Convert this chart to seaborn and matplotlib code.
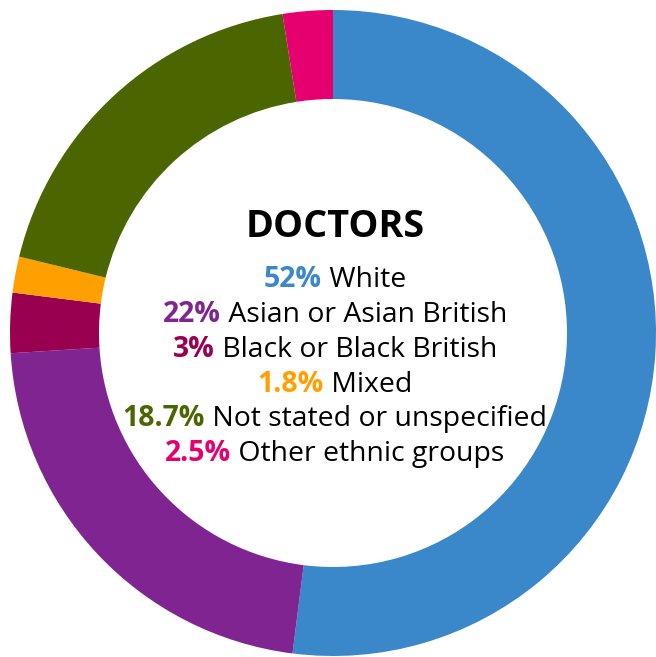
import matplotlib
matplotlib.use("Agg")
import matplotlib.pyplot as plt
import seaborn as sns

# doctors by ethnic group (%)
groups = ["White", "Asian or Asian British", "Black or Black British",
          "Mixed", "Not stated or unspecified", "Other ethnic groups"]
shares = [52, 22, 3, 1.8, 18.7, 2.5]
share_labels = ["52%", "22%", "3%", "1.8%", "18.7%", "2.5%"]
colors = ["#3a88ca", "#7f2491", "#990050", "#ffa000", "#4b6600", "#e6006f"]

sns.set_theme(style="white")
plt.rcParams["font.family"] = ["Open Sans", "DejaVu Sans"]

W, H = 656, 657
fig = plt.figure(figsize=(W / 100, H / 100), dpi=100)
ax = fig.add_axes([0, 0, 1, 1])

cx, cy = 333, H - 333
outer_r = 323
ring = 89

ax.pie(shares, colors=sns.color_palette(colors), startangle=90, counterclock=False,
       radius=outer_r, center=(cx, cy),
       wedgeprops=dict(width=ring, linewidth=0, antialiased=True))
ax.set_xlim(0, W)
ax.set_ylim(0, H)
ax.set_aspect("equal", adjustable="box")
ax.axis("off")

ax.text(cx + 2, H - 237, "DOCTORS", ha="center", va="baseline",
        fontsize=27.2, fontweight="bold", color="black")

fig.canvas.draw()
renderer = fig.canvas.get_renderer()
baselines = [287, 322, 357, 392, 426, 461]
fs = 20.4
for pct, name, col, y in zip(share_labels, groups, colors, baselines):
    t1 = ax.text(0, H - y, pct, ha="left", va="baseline", fontsize=fs,
                 fontweight="bold", color=col)
    t2 = ax.text(0, H - y, " " + name, ha="left", va="baseline", fontsize=fs,
                 color="black")
    w1 = t1.get_window_extent(renderer).width
    w2 = t2.get_window_extent(renderer).width
    x0 = cx + 2 - (w1 + w2) / 2
    t1.set_x(x0)
    t2.set_x(x0 + w1)

fig.savefig("out.png", dpi=100, facecolor="white")
